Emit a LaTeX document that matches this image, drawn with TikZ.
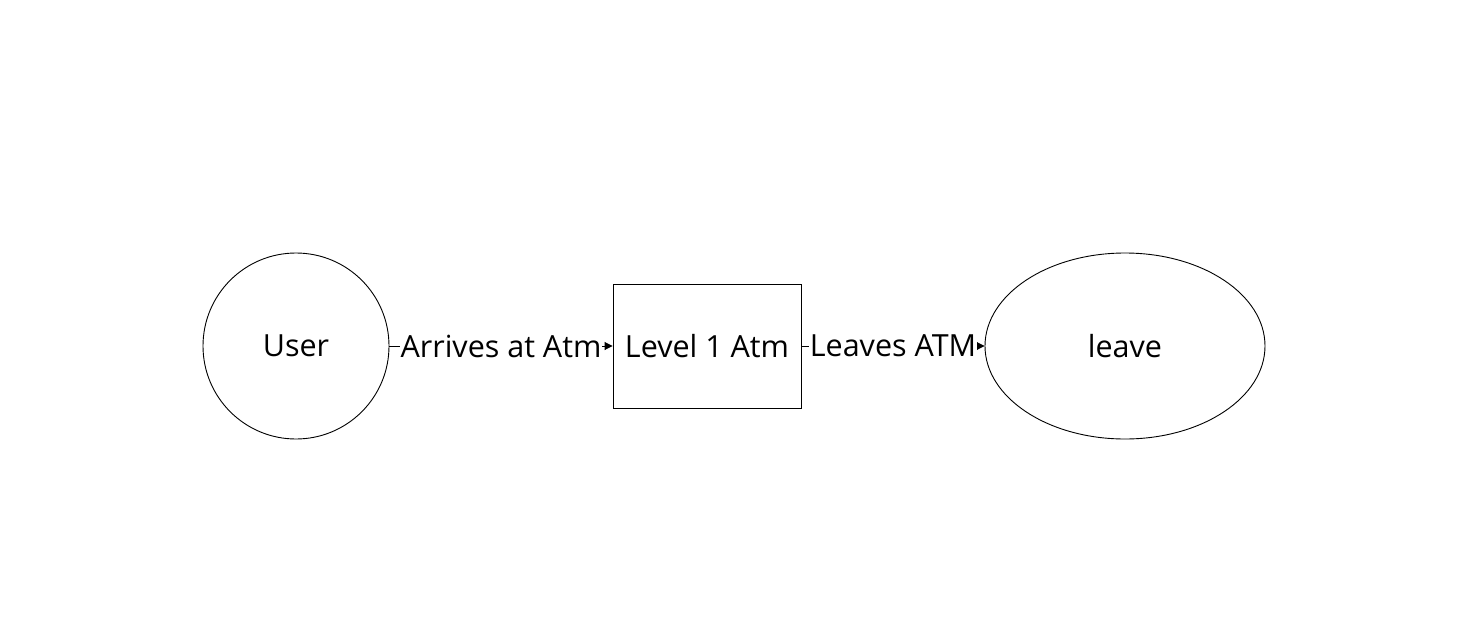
\documentclass[tikz,border=0pt]{standalone}
\usepackage{fontspec}
\setmainfont{Open Sans}
\usetikzlibrary{arrows.meta,shapes.geometric}
\begin{document}
\begin{tikzpicture}[x=1pt,y=-1pt,
  shapeline/.style={draw=black,line width=0.9pt},
  lbl/.style={font=\fontsize{30.5}{34}\selectfont},
  conn/.style={draw=black,line width=0.9pt,-{Triangle[length=8pt,width=8pt]}},
  edgelbl/.style={fill=white,inner sep=1pt,font=\fontsize{30.5}{34}\selectfont}]
\useasboundingbox (0,0) rectangle (1462,616);
\node[shapeline,circle,minimum size=186pt,inner sep=0pt,lbl] (user) at (296,346) {User};
\node[shapeline,rectangle,minimum width=188pt,minimum height=124pt,inner sep=0pt,lbl] (atm) at (707,346) {Level 1 Atm};
\node[shapeline,ellipse,minimum width=280pt,minimum height=186pt,inner sep=0pt,lbl] (leave) at (1125,346) {leave};
\draw[conn] (user) -- node[edgelbl] {Arrives at Atm} (atm);
\draw[conn] (atm) -- node[edgelbl] {Leaves ATM} (leave);
\end{tikzpicture}
\end{document}
